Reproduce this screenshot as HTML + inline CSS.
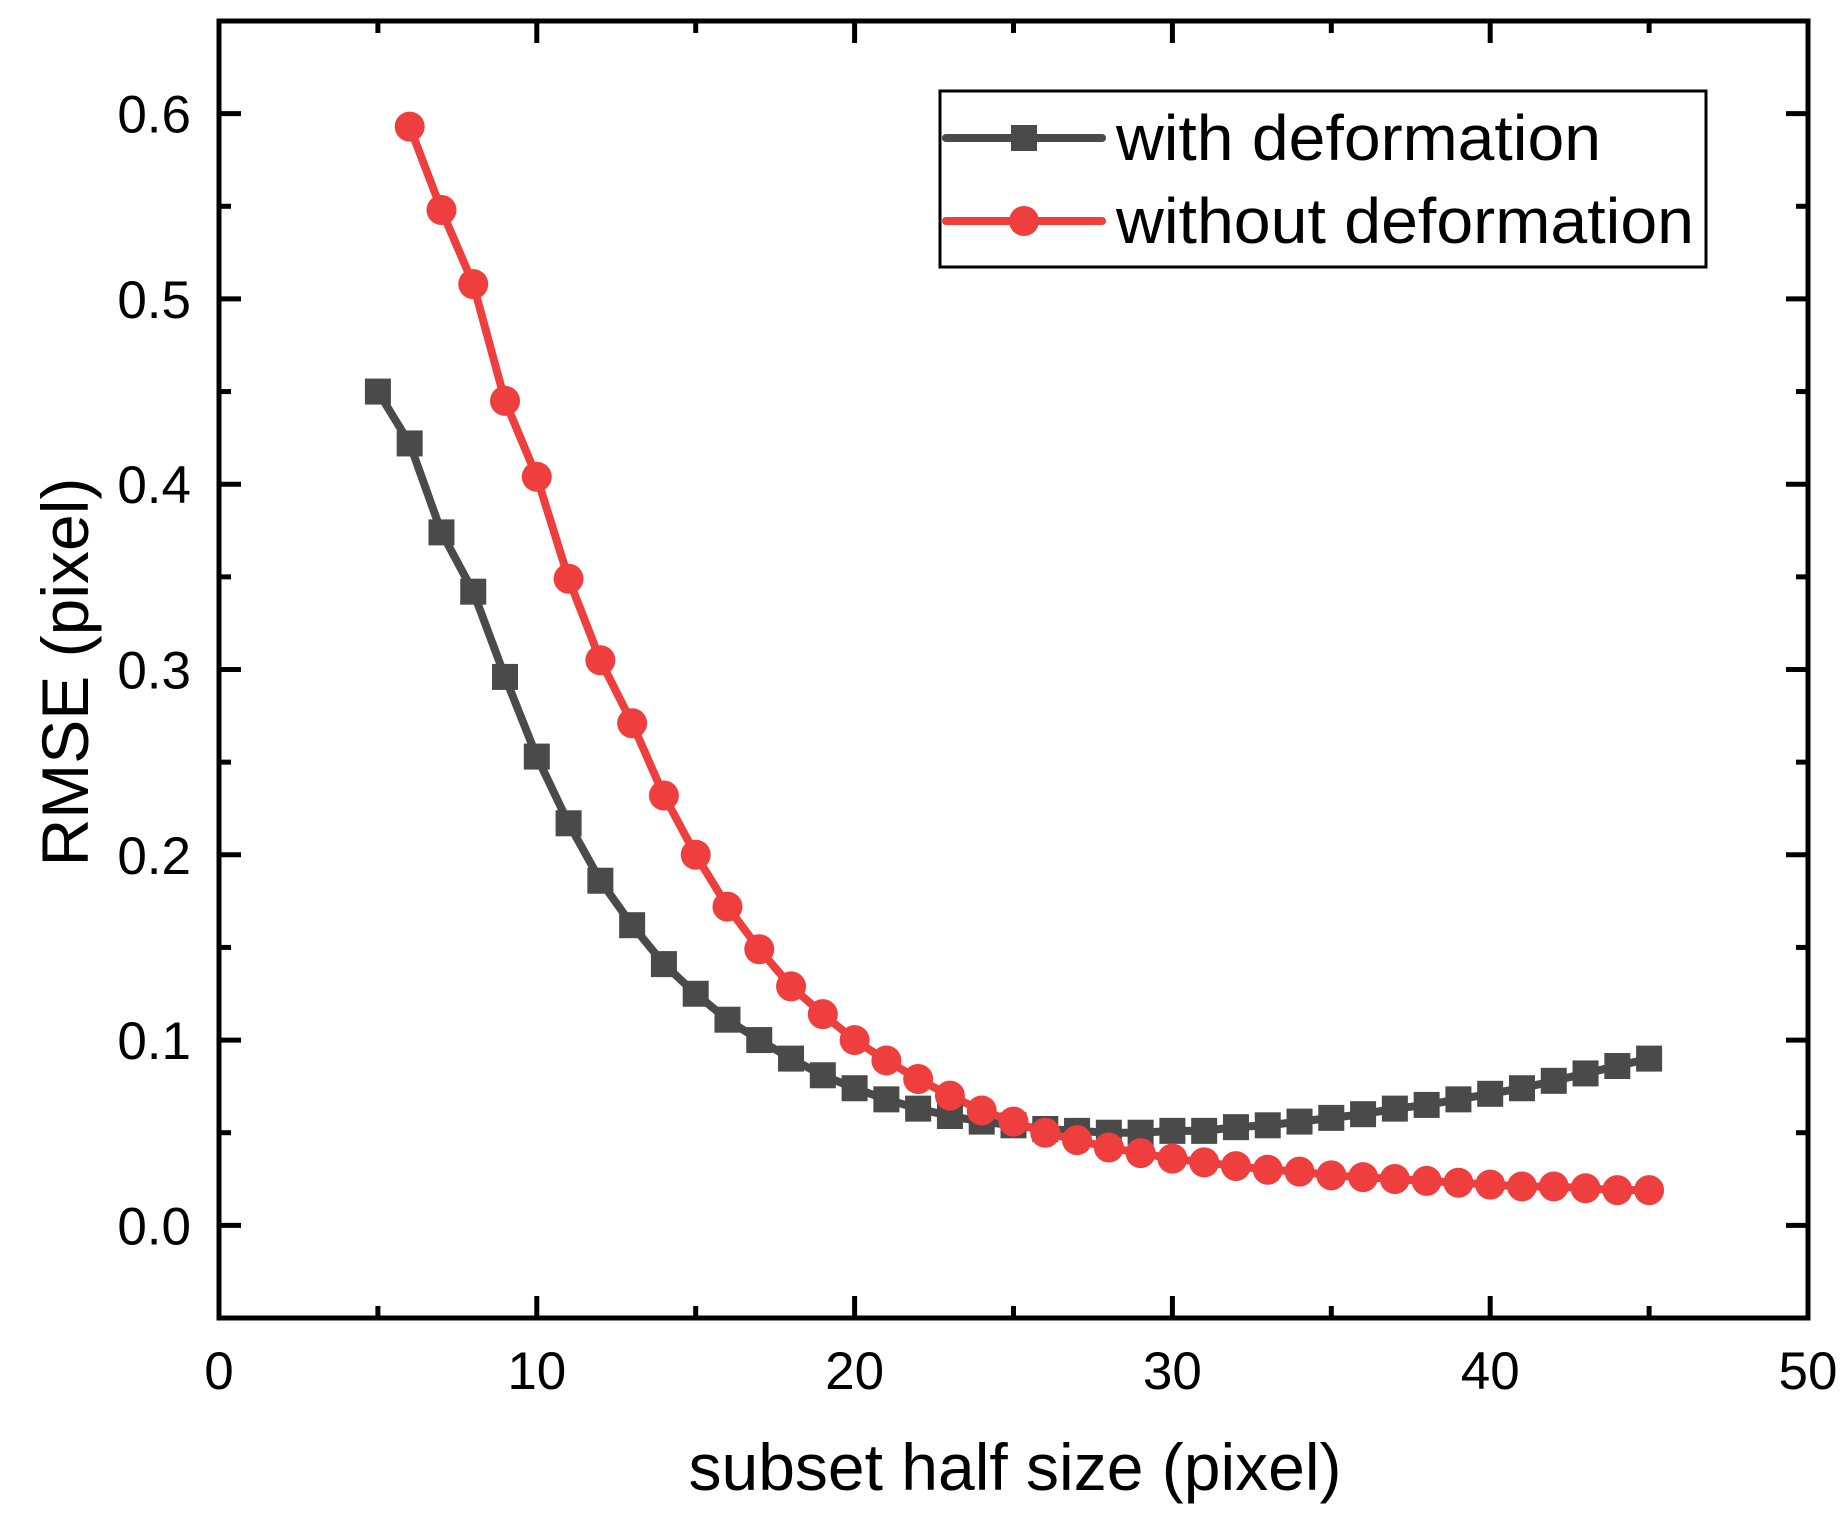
<!DOCTYPE html>
<html><head><meta charset="utf-8"><style>
html,body{margin:0;padding:0;background:#fff}
svg{display:block;font-family:"Liberation Sans",Arial,sans-serif}
</style></head><body>
<svg id="chart" width="1848" height="1523" viewBox="0 0 1848 1523" xmlns="http://www.w3.org/2000/svg">
<g id="axes"></g>
<g id="series"></g>
<text x="1015" y="1490" font-size="66" text-anchor="middle">subset half size (pixel)</text>
<text x="0" y="0" font-size="66" text-anchor="middle" transform="translate(88,672) rotate(-90)">RMSE (pixel)</text>
<g>
<rect x="940" y="91" width="766" height="176" fill="#fff" stroke="#000" stroke-width="3"/>
<g>
<line x1="946" y1="138" x2="1102" y2="138" stroke="#4a4a4a" stroke-width="8" stroke-linecap="round"/>
<rect x="1011" y="125" width="26" height="26" fill="#4a4a4a"/>
<text x="1116" y="160" font-size="64" textLength="485" lengthAdjust="spacingAndGlyphs">with deformation</text>
</g>
<g>
<line x1="946" y1="221" x2="1102" y2="221" stroke="#ee3e3e" stroke-width="8" stroke-linecap="round"/>
<circle cx="1024" cy="221" r="15" fill="#ee3e3e"/>
<text x="1116" y="243" font-size="64" textLength="578" lengthAdjust="spacingAndGlyphs">without deformation</text>
</g>
</g>
</svg>
<script>
const xWith = [5,6,7,8,9,10,11,12,13,14,15,16,17,18,19,20,21,22,23,24,25,26,27,28,29,30,31,32,33,34,35,36,37,38,39,40,41,42,43,44,45];
const yWith = [0.45,0.422,0.374,0.342,0.296,0.253,0.217,0.186,0.162,0.141,0.125,0.111,0.100,0.090,0.081,0.074,0.068,0.063,0.059,0.056,0.054,0.052,0.051,0.050,0.050,0.051,0.051,0.053,0.054,0.056,0.058,0.060,0.063,0.065,0.068,0.071,0.074,0.078,0.082,0.086,0.090];
const xWithout = [6,7,8,9,10,11,12,13,14,15,16,17,18,19,20,21,22,23,24,25,26,27,28,29,30,31,32,33,34,35,36,37,38,39,40,41,42,43,44,45];
const yWithout = [0.593,0.548,0.508,0.445,0.404,0.349,0.305,0.271,0.232,0.200,0.172,0.149,0.129,0.114,0.100,0.089,0.079,0.070,0.062,0.056,0.050,0.046,0.042,0.039,0.036,0.034,0.032,0.030,0.029,0.027,0.026,0.025,0.024,0.023,0.022,0.021,0.021,0.020,0.019,0.019];
const xTicks = [0,10,20,30,40,50];
const xTickLabels = ["0","10","20","30","40","50"];
const yTicks = [0,0.1,0.2,0.3,0.4,0.5,0.6];
const yTickLabels = ["0.0","0.1","0.2","0.3","0.4","0.5","0.6"];
const xMin=0,xMax=50,yMin=-0.05,yMax=0.65;
const L=219,R=1808,T=21,B=1318;
function sx(v){return L+(v-xMin)/(xMax-xMin)*(R-L);}
function sy(v){return B-(v-yMin)/(yMax-yMin)*(B-T);}
const NS="http://www.w3.org/2000/svg";
function mk(tag,attrs,parent){const e=document.createElementNS(NS,tag);for(const k in attrs)e.setAttribute(k,attrs[k]);parent.appendChild(e);return e;}
const axes=document.getElementById('axes');
for(let v=0;v<=50;v+=5){
  const len=(v%10===0)?22:12;
  const x=sx(v);
  const t1=mk('line',{x1:x,y1:B,x2:x,y2:B-len,stroke:'#000','stroke-width':5},axes);
  
  
  const t2=mk('line',{x1:x,y1:T,x2:x,y2:T+len,stroke:'#000','stroke-width':5},axes);
  
  
}
for(let i=-1;i<=13;i++){
  const v=i*0.05;
  const len=(i%2===0)?22:12;
  const y=sy(v);
  const t1=mk('line',{x1:L,y1:y,x2:L+len,y2:y,stroke:'#000','stroke-width':5},axes);
  
  
  const t2=mk('line',{x1:R,y1:y,x2:R-len,y2:y,stroke:'#000','stroke-width':5},axes);
  
  
}
const frame=mk('rect',{x:L,y:T,width:R-L,height:B-T,fill:'none',stroke:'#000','stroke-width':5},axes);


xTicks.forEach((v,i)=>{
  const t=mk('text',{x:sx(v),y:1389,'font-size':53,'text-anchor':'middle'},axes);
  t.textContent=xTickLabels[i];
  
  
});
yTicks.forEach((v,i)=>{
  const t=mk('text',{x:191,y:sy(v)+19,'font-size':53,'text-anchor':'end'},axes);
  t.textContent=yTickLabels[i];
  
  
});
const ser=document.getElementById('series');
function drawLine(xs,ys,color,name){
  const p=mk('polyline',{points:xs.map((x,i)=>sx(x)+','+sy(ys[i])).join(' '),fill:'none',stroke:color,'stroke-width':8,'stroke-linejoin':'round'},ser);
  
  
}
drawLine(xWith,yWith,'#4a4a4a','line-with-deformation');
drawLine(xWithout,yWithout,'#ee3e3e','line-without-deformation');
xWith.forEach((x,i)=>{
  const m=mk('rect',{x:sx(x)-13,y:sy(yWith[i])-13,width:26,height:26,fill:'#4a4a4a'},ser);
  
  
});
xWithout.forEach((x,i)=>{
  const m=mk('circle',{cx:sx(x),cy:sy(yWithout[i]),r:15,fill:'#ee3e3e'},ser);
  
  
});
</script>
</body></html>
